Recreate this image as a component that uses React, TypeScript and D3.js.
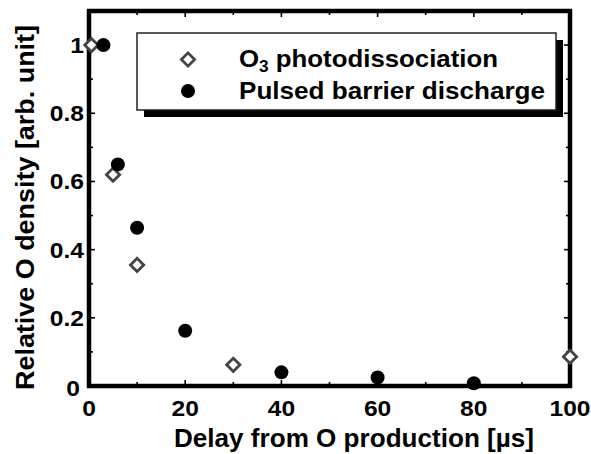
import React from "react";
import * as d3 from "d3";

const photoX = [0.5, 5, 10, 30, 100];
const photoY = [1.0, 0.62, 0.355, 0.062, 0.086];
const pulsedX = [3, 6, 10, 20, 40, 60, 80];
const pulsedY = [1.0, 0.65, 0.464, 0.162, 0.04, 0.025, 0.008];
const xMajorTicks = [0, 20, 40, 60, 80, 100];
const yMajorTicks = [0, 0.2, 0.4, 0.6, 0.8, 1];
const yTickLabels = ["0", "0.2", "0.4", "0.6", "0.8", "1"];
const legendLabels = ["O3 photodissociation", "Pulsed barrier discharge"];
const xTitle = "Delay from O production [\u00b5s]";
const yTitle = "Relative O density [arb. unit]";

const W = 591, H = 454;
const L = 89, R = 570, T = 11, B = 386;
const FONT = "'Liberation Sans', Arial, Helvetica, sans-serif";

export default function App() {
  const x = d3.scaleLinear().domain([0, 100]).range([L, R]);
  const y = d3.scaleLinear().domain([0, 1.1]).range([B, T]);
  const xMinor = d3.range(10, 100, 20);
  const yMinor = d3.range(1, 11, 2).map((v) => v / 10);
  const diamond = d3.symbol().type(d3.symbolDiamond2).size(112)();
  const tickW = 1.6;

  return (
    <svg width={W} height={H} style={{ position: "absolute", left: 0, top: 0, background: "#fff" }}
      fontFamily={FONT} fontWeight="bold">
      {/* ticks */}
      {xMajorTicks.map((t) => (
        <g key={"xm" + t} stroke="#000" strokeWidth={tickW}>
          <line x1={x(t)} x2={x(t)} y1={B} y2={B - 6} />
          <line x1={x(t)} x2={x(t)} y1={T} y2={T + 6} />
        </g>
      ))}
      {xMinor.map((t) => (
        <g key={"xn" + t} stroke="#000" strokeWidth={tickW}>
          <line x1={x(t)} x2={x(t)} y1={B} y2={B - 4} />
          <line x1={x(t)} x2={x(t)} y1={T} y2={T + 4} />
        </g>
      ))}
      {yMajorTicks.map((t) => (
        <g key={"ym" + t} stroke="#000" strokeWidth={tickW}>
          <line x1={L} x2={L + 6} y1={y(t)} y2={y(t)} />
          <line x1={R} x2={R - 6} y1={y(t)} y2={y(t)} />
        </g>
      ))}
      {yMinor.map((t) => (
        <g key={"yn" + t} stroke="#000" strokeWidth={tickW}>
          <line x1={L} x2={L + 4} y1={y(t)} y2={y(t)} />
          <line x1={R} x2={R - 4} y1={y(t)} y2={y(t)} />
        </g>
      ))}
      {/* frame */}
      <rect x={L} y={T} width={R - L} height={B - T} fill="none" stroke="#000" strokeWidth={4.5} />

      {/* tick labels */}
      {xMajorTicks.map((t) => (
        <text key={"xl" + t} transform={`translate(${x(t)},416) scale(1.12,1)`} textAnchor="middle" fontSize={22}>
          {t}
        </text>
      ))}
      {yMajorTicks.map((t, i) => (
        <text key={"yl" + t} transform={`translate(${t === 0 ? 80 : 84},${y(t) + (t === 0 ? 10 : 8)}) scale(1.12,1)`}
          textAnchor="end" fontSize={22}>
          {yTickLabels[i]}
        </text>
      ))}

      {/* axis titles */}
      <text x={174} y={447} fontSize={26} textLength={360} lengthAdjust="spacingAndGlyphs">{xTitle}</text>
      <text transform="translate(33.5,390) rotate(-90)" fontSize={25.5} textLength={365} lengthAdjust="spacingAndGlyphs">
        {yTitle}
      </text>

      {/* data */}
      {photoX.map((v, i) => (
        <path key={"p" + i} d={diamond} transform={`translate(${x(v)},${y(photoY[i])})`}
          fill="#fff" stroke="#444" strokeWidth={2.8} />
      ))}
      {pulsedX.map((v, i) => (
        <circle key={"c" + i} cx={x(v)} cy={y(pulsedY[i])} r={7} fill="#000" />
      ))}

      {/* legend */}
      <rect x={144} y={40} width={419} height={77} fill="#000" />
      <rect x={137} y={33} width={419} height={77} fill="#fff" stroke="#222" strokeWidth={1.5} />
      <path d={diamond} transform="translate(188,59.5)" fill="#fff" stroke="#444" strokeWidth={2.8} />
      <circle cx={188} cy={91} r={7} fill="#000" />
      <text x={239} y={66.5} fontSize={24} textLength={259} lengthAdjust="spacingAndGlyphs">
        O<tspan fontSize={16} dy={5}>3</tspan><tspan dy={-5}> photodissociation</tspan>
      </text>
      <text x={239} y={99} fontSize={24} textLength={306} lengthAdjust="spacingAndGlyphs">{legendLabels[1]}</text>
    </svg>
  );
}
